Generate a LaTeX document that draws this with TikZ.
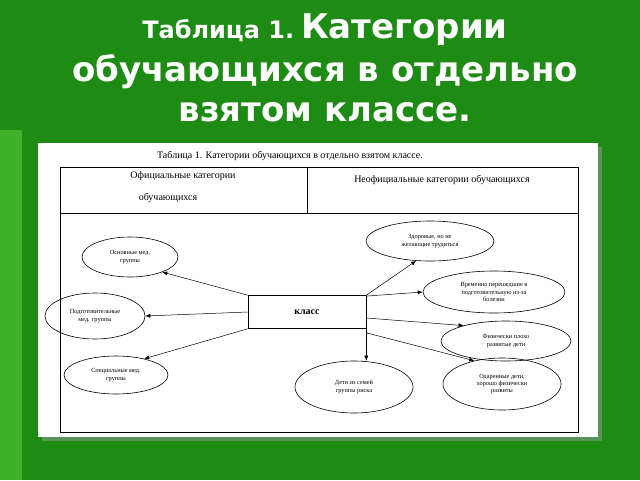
\documentclass[tikz,border=0pt]{standalone}
\usepackage{fontspec}
\setmainfont{Liberation Serif}
\newfontfamily\titlefont{DejaVu Sans}
\usetikzlibrary{shapes.geometric,arrows.meta}
\definecolor{slidegreen}{HTML}{1E8C14}
\definecolor{lightgreen}{HTML}{3FB02A}
\tikzset{
  cat/.style={ellipse,draw,line width=0.6pt,inner sep=0pt,align=center,font=\fontsize{6.3}{7.3}\selectfont},
  arr/.style={-{Latex[length=5pt,width=4pt]},line width=0.5pt}
}
\begin{document}
\begin{tikzpicture}[x=1pt,y=-1pt]
\useasboundingbox (0,0) rectangle (640,480);
\fill[slidegreen] (0,0) rectangle (640,480);
\fill[lightgreen] (0,130) rectangle (22,480);
\fill[black!40,opacity=0.5] (42,147) rectangle (602,441);
\fill[white] (38,143) rectangle (598,437);
% title
\node[text=white,font=\titlefont\bfseries] (title1) at (325,30)
  {{\fontsize{24}{28}\selectfont Таблица 1.}\ \ {\fontsize{34}{40}\selectfont Категории}};
\node[text=white,font=\titlefont\bfseries\fontsize{34}{40}\selectfont] (title2) at (325,72) {обучающихся в отдельно};
\node[text=white,font=\titlefont\bfseries\fontsize{34}{40}\selectfont] (title3) at (325,112) {взятом классе.};
% table
\node[font=\fontsize{10}{12}\selectfont] (tabcap) at (290,156) {Таблица 1. Категории обучающихся в отдельно взятом классе.};
\draw[line width=0.6pt] (60,167) rectangle (578,432);
\draw[line width=0.6pt] (60,213) -- (578,213);
\draw[line width=0.6pt] (307,167) -- (307,213);
\node[font=\fontsize{10}{12}\selectfont] (offa) at (183,176) {Официальные категории};
\node[font=\fontsize{10}{12}\selectfont] (offb) at (168,198) {обучающихся};
\node[font=\fontsize{10}{12}\selectfont] (unoff) at (442,180) {Неофициальные категории обучающихся};
% centre
\node[draw,line width=0.6pt,minimum width=118pt,minimum height=33pt,font=\bfseries\fontsize{10}{12}\selectfont] (klass) at (307,312) {класс};
\node[cat,minimum width=96pt,minimum height=40pt] (osn) at (130,257) {Основные мед.\\группы};
\node[cat,minimum width=100pt,minimum height=46pt] (podg) at (95,316) {Подготовительные\\мед. группы};
\node[cat,minimum width=104pt,minimum height=38pt] (spec) at (116,375) {Специальные мед.\\группы};
\node[cat,minimum width=128pt,minimum height=40pt] (zdor) at (430,241) {Здоровые, но не\\желающие трудиться};
\node[cat,minimum width=142pt,minimum height=42pt] (vrem) at (494,292) {Временно перешедшие в\\подготовительную из-за\\болезни};
\node[cat,minimum width=130pt,minimum height=40pt] (fiz) at (506,341) {Физически плохо\\развитые дети};
\node[cat,minimum width=118pt,minimum height=52pt] (risk) at (354,387) {Дети из семей\\группы риска};
\node[cat,minimum width=118pt,minimum height=52pt] (odar) at (502,384) {Одаренные дети,\\хорошо физически\\развиты};
% arrows
\draw[arr] (klass.north west) -- (osn.-25);
\draw[arr] (klass.west) -- (podg.east);
\draw[arr] (klass.south west) -- (spec.30);
\draw[arr] (klass.north east) -- (zdor.-125);
\draw[arr] (klass.15) -- (vrem.west);
\draw[arr] ([yshift=-6pt]klass.east) -- (fiz.160);
\draw[arr] (klass.south east) -- (risk.north -| klass.south east);
\draw[arr] ([yshift=-4pt]klass.south east) -- (odar.140);
\end{tikzpicture}
\end{document}
